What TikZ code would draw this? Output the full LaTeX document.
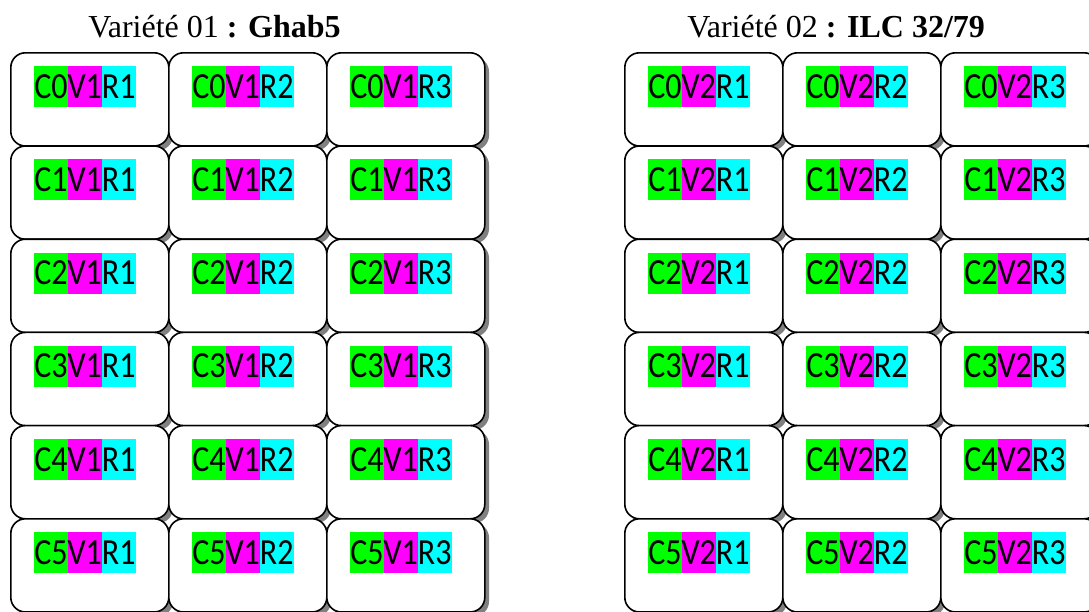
\documentclass[tikz,border=0pt]{standalone}
\usepackage{fontspec}
\usepackage{graphicx}
\setmainfont{Liberation Serif}
\newfontfamily\calfont{Carlito}
\definecolor{hgreen}{HTML}{00FF00}
\definecolor{hmag}{HTML}{FF00FF}
\definecolor{hcyan}{HTML}{00FFFF}
\definecolor{shadowgray}{HTML}{808080}
\newcommand{\hlseg}[2]{\colorbox{#1}{\rule[-6.75pt]{0pt}{30.75pt}\scalebox{1}[1.15]{#2}}}
\newcommand{\plotlabel}[3]{{\setlength{\fboxsep}{0pt}\calfont\fontsize{24pt}{28pt}\selectfont\hlseg{hgreen}{C#1}\hlseg{hmag}{V#2}\hlseg{hcyan}{R#3}}}
\begin{document}
\begin{tikzpicture}[x=0.75pt,y=-0.75pt,
  plot/.style={draw=black, line width=1.2pt, fill=white, rounded corners=11pt,
    minimum width=118.5pt, minimum height=69.9pt, inner sep=0pt, anchor=north west},
  shadowbox/.style={fill=shadowgray, rounded corners=11pt},
  lab/.style={inner sep=0pt, anchor=north west},
  title/.style={anchor=base west, inner sep=0pt, font=\fontsize{24pt}{28pt}\selectfont}]
\useasboundingbox (0,0) rectangle (1089,611);
\clip (0,0) rectangle (1089,611);
\node[title] (t1) at (88,37) {Variété 01 \textbf{: Ghab5}};
\node[title] (t2) at (687,37) {Variété 02 \textbf{: ILC 32/79}};
% shadows
\foreach \v/\gx in {1/10, 2/624}{
  \foreach \c in {0,...,5}{
    \foreach \r in {1,2,3}{
      \pgfmathsetmacro{\bx}{\gx+(\r-1)*158}
      \pgfmathsetmacro{\by}{52+\c*93.2}
      \fill[shadowbox] (\bx+5,\by+5) rectangle ++(158,93.2);
    }
  }
}
% boxes and labels
\foreach \v/\gx in {1/10, 2/624}{
  \foreach \c in {0,...,5}{
    \foreach \r in {1,2,3}{
      \pgfmathsetmacro{\bx}{\gx+(\r-1)*158}
      \pgfmathsetmacro{\by}{52+\c*93.2}
      \node[plot] (b\v-\c-\r) at (\bx,\by) {};
      \node[lab] (l\v-\c-\r) at ([shift={(24,14)}]b\v-\c-\r.north west) {\plotlabel{\c}{\v}{\r}};
    }
  }
}
\end{tikzpicture}
\end{document}
